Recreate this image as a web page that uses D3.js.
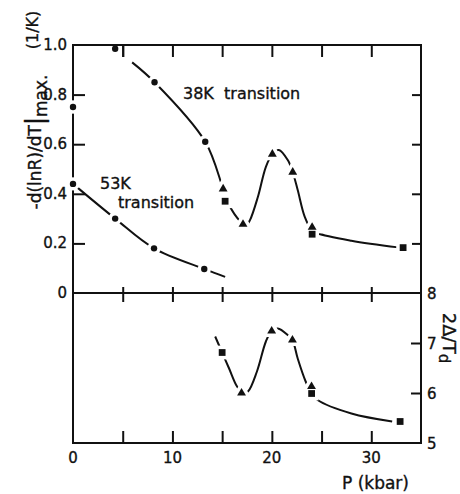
<!DOCTYPE html>
<html>
<head>
<meta charset="utf-8">
<script src="https://cdn.jsdelivr.net/npm/d3@7"></script>
<style>
  body { margin: 0; background: #fff; }
  svg { display: block; }
  text { font-family: "DejaVu Sans", sans-serif; fill: #111; stroke: #111; stroke-width: 0.35px; }
</style>
</head>
<body>
<svg id="chart" width="460" height="494"></svg>
<script>
'use strict';

// ---- data ----
var pTicks = [0, 5, 10, 15, 20, 25, 30];
var pLabels = [0, 10, 20, 30];
var slopeTicks = [0, 0.2, 0.4, 0.6, 0.8, 1.0];
var gapTicks = [5, 6, 7, 8];

// upper panel: -d(lnR)/dT max (1/K)
var dots53 = [[0, 0.44], [4.24, 0.30], [8.15, 0.18], [13.2, 0.097]];
var dots38 = [[0, 0.75], [4.24, 0.985], [8.2, 0.85], [13.3, 0.61]];
var tri38 = [[15.1, 0.42], [17.1, 0.277], [20.05, 0.56], [22.1, 0.487], [24.05, 0.265]];
var sq38 = [[15.3, 0.37], [24.05, 0.237], [33.2, 0.183]];
var line53 = [[0, 0.44], [4.24, 0.30], [8.15, 0.18], [13.2, 0.097], [15.3, 0.065]];
var line38 = [[5.95, 0.93], [8.2, 0.85], [13.3, 0.61], [15.1, 0.42], [15.7, 0.355],
              [16.8, 0.29], [17.4, 0.272], [17.8, 0.294], [18.6, 0.388], [19.4, 0.509],
              [20.05, 0.56], [20.7, 0.577], [21.6, 0.536], [22.1, 0.487], [22.6, 0.415],
              [23.3, 0.308], [24.0, 0.255], [24.6, 0.241], [28.0, 0.211], [32.7, 0.184]];

// lower panel: 2Δ/Td
var triGap = [[16.95, 6.0], [19.98, 7.24], [22.07, 7.06], [23.99, 6.13]];
var sqGap = [[15.0, 6.81], [24.0, 5.99], [32.9, 5.43]];
var lineGap = [[14.3, 7.13], [15.0, 6.81], [15.7, 6.49], [16.5, 6.13], [17.1, 6.0],
               [17.6, 6.03], [18.5, 6.43], [19.4, 7.03], [19.98, 7.24], [20.6, 7.29],
               [21.6, 7.16], [22.07, 7.06], [22.6, 6.69], [23.4, 6.23], [24.0, 5.99],
               [24.6, 5.86], [28.0, 5.59], [32.1, 5.43]];

var svg = d3.select('#chart');

var x = d3.scaleLinear().domain([0, 35]).range([73, 421]);
var yTop = d3.scaleLinear().domain([0, 1]).range([293, 45]);
var yBot = d3.scaleLinear().domain([5, 8]).range([443, 293]);

var ink = '#111';

// frame
var frame = svg.append('g').attr('fill', 'none').attr('stroke', ink).attr('stroke-width', 2);
frame.append('rect')
  .attr('x', x(0)).attr('y', yTop(1))
  .attr('width', x(35) - x(0)).attr('height', yBot(5) - yTop(1));
frame.append('line')
  .attr('x1', x(0)).attr('x2', x(35))
  .attr('y1', yTop(0)).attr('y2', yTop(0));

// axes built with d3 axis helpers, ticks pointing inwards
function styleAxis(g) {
  g.select('.domain').remove();
  g.selectAll('.tick line').attr('stroke', ink).attr('stroke-width', 2);
  g.selectAll('.tick text').remove();
}

var tickP = pTicks.filter(function (d) { return d > 0; });

svg.append('g').attr('transform', 'translate(0,' + yTop(1) + ')')
  .call(d3.axisBottom(x).tickValues(tickP).tickSize(-12)).call(styleAxis)
  .selectAll('.tick line').attr('y2', 12);

svg.append('g').attr('transform', 'translate(0,' + yTop(0) + ')')
  .call(d3.axisBottom(x).tickValues(tickP).tickSize(9)).call(styleAxis)
  .selectAll('.tick line').attr('y1', -6);

svg.append('g').attr('transform', 'translate(0,' + yBot(5) + ')')
  .call(d3.axisTop(x).tickValues(tickP).tickSize(12)).call(styleAxis);

svg.append('g').attr('transform', 'translate(' + x(0) + ',0)')
  .call(d3.axisRight(yTop).tickValues(slopeTicks.slice(1, 5)).tickSize(12)).call(styleAxis);

svg.append('g').attr('transform', 'translate(' + x(35) + ',0)')
  .call(d3.axisLeft(yTop).tickValues(slopeTicks.slice(1, 5)).tickSize(9)).call(styleAxis);

svg.append('g').attr('transform', 'translate(' + x(35) + ',0)')
  .call(d3.axisLeft(yBot).tickValues([6, 7]).tickSize(10)).call(styleAxis);

// tick labels
svg.append('g').selectAll('text').data(slopeTicks).join('text')
  .attr('x', 67).attr('y', function (d) { return yTop(d) + 5; })
  .attr('text-anchor', 'end').attr('font-size', 15)
  .text(function (d) { return d === 0 ? '0' : d3.format('.1f')(d); });

svg.append('g').selectAll('text').data(pLabels).join('text')
  .attr('x', function (d) { return x(d); }).attr('y', 463)
  .attr('text-anchor', 'middle').attr('font-size', 15)
  .text(function (d) { return d; });

svg.append('g').selectAll('text').data(gapTicks).join('text')
  .attr('x', 427).attr('y', function (d) { return yBot(d) + 6; })
  .attr('font-size', 15)
  .text(function (d) { return d; });

// curves
var lineTop = d3.line().x(function (d) { return x(d[0]); }).y(function (d) { return yTop(d[1]); })
  .curve(d3.curveCatmullRom.alpha(0.5));
var lineBot = d3.line().x(function (d) { return x(d[0]); }).y(function (d) { return yBot(d[1]); })
  .curve(d3.curveCatmullRom.alpha(0.5));

var curves = svg.append('g').attr('fill', 'none').attr('stroke', ink).attr('stroke-width', 2);
curves.append('path').attr('d', lineTop(line53));
curves.append('path').attr('d', lineTop(line38));
curves.append('path').attr('d', lineBot(lineGap));

// markers: white halos first so the lines break around the symbols
var triangle = d3.symbol().type(d3.symbolTriangle).size(34);
var square = d3.symbol().type(d3.symbolSquare).size(46);

var marks = []
  .concat(dots53.map(function (d) { return { x: x(d[0]), y: yTop(d[1]), s: 'c' }; }))
  .concat(dots38.map(function (d) { return { x: x(d[0]), y: yTop(d[1]), s: 'c' }; }))
  .concat(tri38.map(function (d) { return { x: x(d[0]), y: yTop(d[1]), s: 't' }; }))
  .concat(sq38.map(function (d) { return { x: x(d[0]), y: yTop(d[1]), s: 's' }; }))
  .concat(triGap.map(function (d) { return { x: x(d[0]), y: yBot(d[1]), s: 't' }; }))
  .concat(sqGap.map(function (d) { return { x: x(d[0]), y: yBot(d[1]), s: 's' }; }));

function drawMarks(g) {
  g.filter(function (d) { return d.s === 'c'; }).append('circle').attr('r', 3.2);
  g.filter(function (d) { return d.s === 't'; }).append('path').attr('d', triangle());
  g.filter(function (d) { return d.s === 's'; }).append('path').attr('d', square());
}

svg.append('g').selectAll('g').data(marks).join('g')
  .attr('transform', function (d) { return 'translate(' + d.x + ',' + d.y + ')'; })
  .attr('fill', '#fff').attr('stroke', '#fff').attr('stroke-width', 7)
  .call(drawMarks);

// top border and its ticks stay unbroken under the 0.99 point
svg.append('line').attr('stroke', ink).attr('stroke-width', 2)
  .attr('x1', x(0) - 1).attr('x2', x(35) + 1)
  .attr('y1', yTop(1)).attr('y2', yTop(1));
svg.append('g').attr('transform', 'translate(0,' + yTop(1) + ')')
  .call(d3.axisBottom(x).tickValues(tickP.slice(0, 1)).tickSize(-12)).call(styleAxis)
  .selectAll('.tick line').attr('y2', 12);

svg.append('g').selectAll('g').data(marks).join('g')
  .attr('transform', function (d) { return 'translate(' + d.x + ',' + d.y + ')'; })
  .attr('fill', ink)
  .call(drawMarks);

// annotations
svg.append('text').attr('x', 183).attr('y', 99).attr('font-size', 16)
  .attr('xml:space', 'preserve').text('38K  transition');
svg.append('text').attr('x', 100).attr('y', 189).attr('font-size', 16).text('53K');
svg.append('text').attr('x', 118).attr('y', 208).attr('font-size', 16).text('transition');

// axis titles
var yt = svg.append('text').attr('transform', 'translate(41,142) rotate(-90)')
  .attr('text-anchor', 'middle').attr('font-size', 17);
yt.append('tspan').text('-d(lnR)/dT');
yt.append('tspan').attr('font-size', 24).attr('dy', 2).text('|');
yt.append('tspan').attr('dy', 4).text('max.');

svg.append('text').attr('transform', 'translate(38,30) rotate(-90)')
  .attr('text-anchor', 'middle').attr('font-size', 16).text('(1/K)');

var rt = svg.append('text').attr('transform', 'translate(443,338) rotate(90)')
  .attr('text-anchor', 'middle').attr('font-size', 18);
rt.append('tspan').text('2Δ/T');
rt.append('tspan').attr('dy', 4).attr('font-size', 15).text('d');

svg.append('text').attr('x', 409).attr('y', 489).attr('text-anchor', 'end')
  .attr('font-size', 17).text('P (kbar)');
</script>
</body>
</html>
